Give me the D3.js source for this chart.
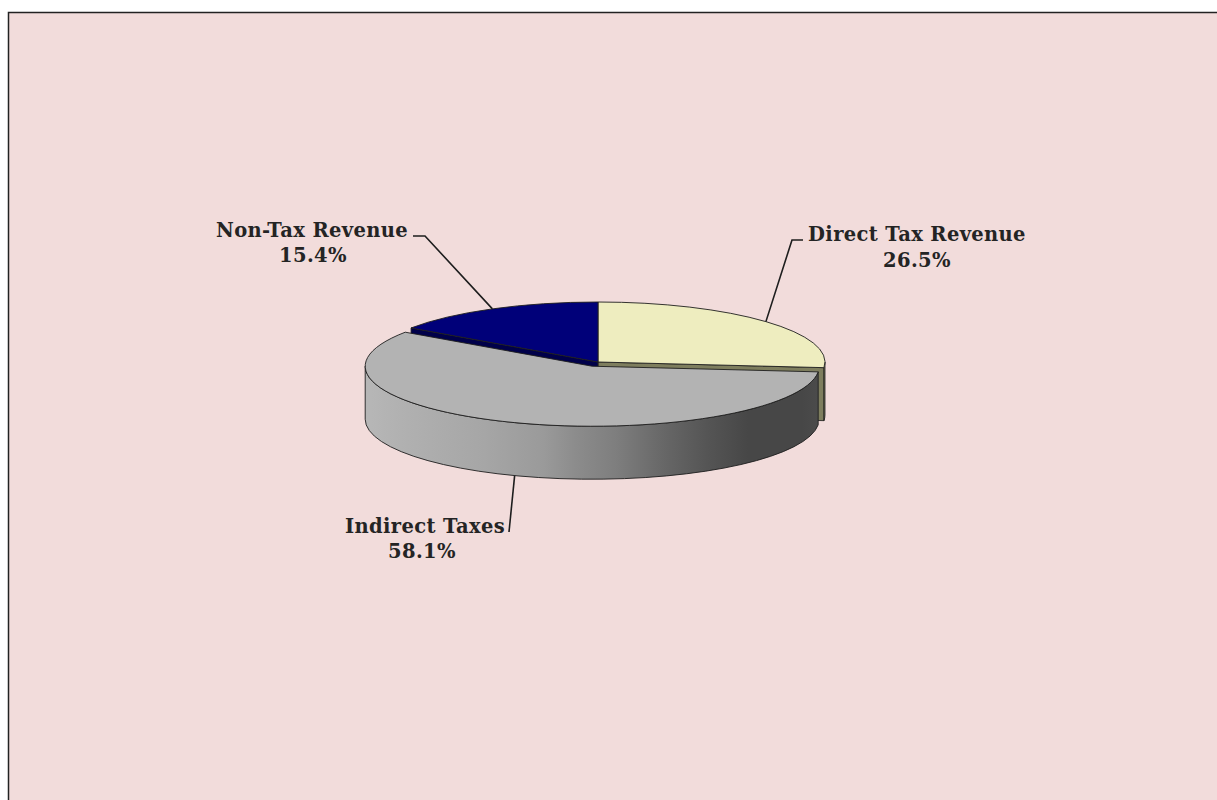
<!DOCTYPE html>
<html>
<head>
<meta charset="utf-8">
<script src="https://cdn.jsdelivr.net/npm/d3@7"></script>
<style>
  html, body { margin: 0; padding: 0; background: #ffffff; }
  svg { display: block; }
</style>
</head>
<body>
<script>
// Revenue composition (share of total receipts, %)
const categories = ["Direct Tax Revenue", "Indirect Taxes", "Non-Tax Revenue"];
const shares = [26.5, 58.1, 15.4];
const shareLabels = ["26.5%", "58.1%", "15.4%"];

const W = 1217, H = 800;
const svg = d3.select("body").append("svg").attr("width", W).attr("height", H);

// Chart area panel
svg.append("rect")
  .attr("x", 8.5).attr("y", 12.5)
  .attr("width", 1230).attr("height", 820)
  .attr("fill", "#f2dcdb").attr("stroke", "#222").attr("stroke-width", 1.5);

// 3-D pie geometry
const cx = 598, cy = 362, rx = 227, ry = 60, depth = 53;
const explodeIndex = 1, explodeDist = 17;

const topFill  = ["#eeedbf", "#b3b3b3", "#000079"];
const cutFill  = ["#7e7e5e", "#6a6a6a", "#00004a"];
const wallFill = ["#84845f", "url(#wallGrad)", "#00004a"];
const edge = "#1e1e1e";

const defs = svg.append("defs");
const grad = defs.append("linearGradient").attr("id", "wallGrad")
  .attr("gradientUnits", "userSpaceOnUse")
  .attr("x1", cx - rx).attr("x2", cx + rx).attr("y1", 0).attr("y2", 0);
[[0, "#b6b6b6"], [0.08, "#b0b0b0"], [0.25, "#a6a6a6"], [0.38, "#9a9a9a"],
 [0.45, "#8c8c8c"], [0.54, "#7e7e7e"], [0.65, "#666666"], [0.74, "#555555"],
 [0.83, "#474747"], [0.95, "#474747"], [1, "#4d4d4d"]]
  .forEach(([o, c]) => grad.append("stop").attr("offset", o).attr("stop-color", c));

const pie = d3.pie().sort(null).startAngle(0).endAngle(2 * Math.PI);
const arcs = pie(shares);

// offsets for the pulled-out slice
arcs.forEach((d, i) => {
  const mid = (d.startAngle + d.endAngle) / 2;
  d.mid = mid;
  const dist = i === explodeIndex ? explodeDist : 0;
  d.dx = dist * Math.sin(mid);
  d.dy = -dist * Math.cos(mid) * (ry / rx);
});

function pt(d, a, z = 0) {
  return [cx + d.dx + rx * Math.sin(a), cy + d.dy - ry * Math.cos(a) + z];
}
const P = p => p[0].toFixed(2) + "," + p[1].toFixed(2);

function topPath(d) {
  const c = [cx + d.dx, cy + d.dy];
  const large = d.endAngle - d.startAngle > Math.PI ? 1 : 0;
  return `M${P(c)}L${P(pt(d, d.startAngle))}A${rx},${ry} 0 ${large} 1 ${P(pt(d, d.endAngle))}Z`;
}
function wallPath(d) {
  const s = Math.max(d.startAngle, Math.PI / 2);
  const e = Math.min(d.endAngle, 3 * Math.PI / 2);
  if (e <= s) return null;
  const large = e - s > Math.PI ? 1 : 0;
  return `M${P(pt(d, s))}A${rx},${ry} 0 ${large} 1 ${P(pt(d, e))}` +
         `L${P(pt(d, e, depth))}A${rx},${ry} 0 ${large} 0 ${P(pt(d, s, depth))}Z`;
}
function cutPath(d, a) {
  const c = [cx + d.dx, cy + d.dy];
  const r = pt(d, a);
  return `M${P(c)}L${P(r)}L${P([r[0], r[1] + depth])}L${P([c[0], c[1] + depth])}Z`;
}

const g = svg.append("g");

// Back slices first: visible cut faces and walls, then tops
arcs.forEach((d, i) => {
  if (i === explodeIndex) return;
  // cut face on the front-facing side
  const a = (Math.cos(d.endAngle) < Math.cos(d.startAngle)) ? d.endAngle : d.startAngle;
  g.append("path").attr("d", cutPath(d, a))
    .attr("fill", cutFill[i]).attr("stroke", edge).attr("stroke-width", 0.8);
  const w = wallPath(d);
  if (w) g.append("path").attr("d", w)
    .attr("fill", wallFill[i]).attr("stroke", edge).attr("stroke-width", 0.8);
});
arcs.forEach((d, i) => {
  if (i === explodeIndex) return;
  g.append("path").attr("d", topPath(d))
    .attr("fill", topFill[i]).attr("stroke", edge).attr("stroke-width", 0.9)
    .attr("stroke-linejoin", "round");
});

// Pulled-out slice in front
const ex = arcs[explodeIndex];
g.append("path").attr("d", wallPath(ex))
  .attr("fill", wallFill[explodeIndex]).attr("stroke", edge).attr("stroke-width", 0.9);
g.append("path").attr("d", topPath(ex))
  .attr("fill", topFill[explodeIndex]).attr("stroke", edge).attr("stroke-width", 0.9)
  .attr("stroke-linejoin", "round");

// Data labels with leader lines
const labelLayout = [
  { lines: [{ x: 917, y: 241, anchor: "middle" }, { x: 917, y: 267, anchor: "middle" }],
    leader: [[803, 240], [792, 240]], onBottom: false },
  { lines: [{ x: 505, y: 533, anchor: "end" }, { x: 422, y: 558, anchor: "middle" }],
    leader: [[509, 532]], onBottom: true },
  { lines: [{ x: 312, y: 237, anchor: "middle" }, { x: 313, y: 262, anchor: "middle" }],
    leader: [[413, 236], [425, 236]], onBottom: false }
];

const lab = svg.append("g")
  .attr("font-family", "'DejaVu Serif', serif")
  .attr("font-weight", "bold")
  .attr("font-size", 19.5)
  .attr("letter-spacing", 0.35)
  .attr("fill", "#242424");

arcs.forEach((d, i) => {
  const L = labelLayout[i];
  const end = pt(d, d.mid, L.onBottom ? depth : 0);
  lab.append("path")
    .attr("d", d3.line()([...L.leader, end]))
    .attr("fill", "none").attr("stroke", "#1e1e1e").attr("stroke-width", 1.6);
  lab.append("text").attr("x", L.lines[0].x).attr("y", L.lines[0].y)
    .attr("text-anchor", L.lines[0].anchor).text(categories[i]);
  lab.append("text").attr("x", L.lines[1].x).attr("y", L.lines[1].y)
    .attr("text-anchor", L.lines[1].anchor).text(shareLabels[i]);
});
</script>
</body>
</html>
